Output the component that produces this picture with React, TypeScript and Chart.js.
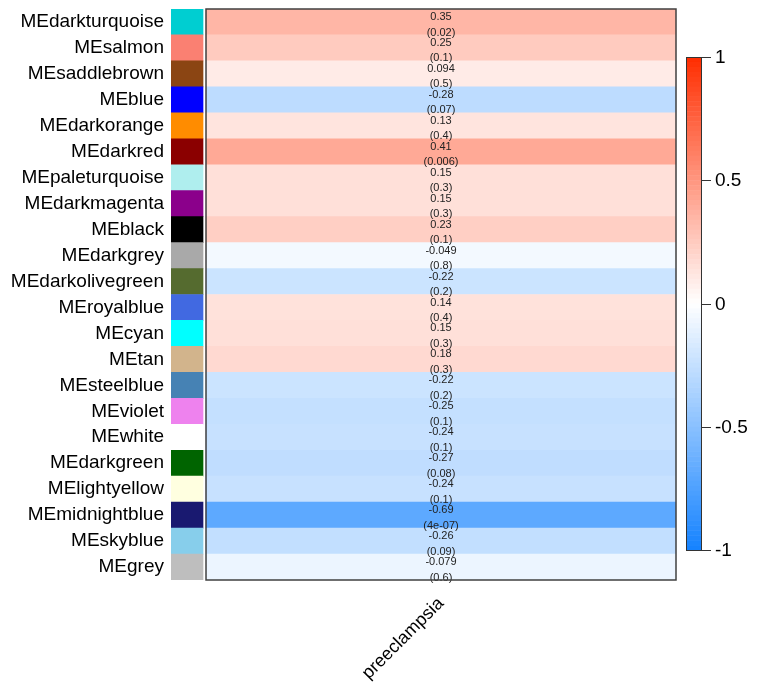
import React, { useEffect, useRef } from 'react';
import { Chart, registerables } from 'chart.js';

Chart.register(...registerables);

const modules = [
  'MEdarkturquoise', 'MEsalmon', 'MEsaddlebrown', 'MEblue', 'MEdarkorange', 'MEdarkred',
  'MEpaleturquoise', 'MEdarkmagenta', 'MEblack', 'MEdarkgrey', 'MEdarkolivegreen', 'MEroyalblue',
  'MEcyan', 'MEtan', 'MEsteelblue', 'MEviolet', 'MEwhite', 'MEdarkgreen', 'MElightyellow',
  'MEmidnightblue', 'MEskyblue', 'MEgrey',
];

const moduleColors = [
  '#00CED1', '#FA8072', '#8B4513', '#0000FF', '#FF8C00', '#8B0000',
  '#AFEEEE', '#8B008B', '#000000', '#A9A9A9', '#556B2F', '#4169E1',
  '#00FFFF', '#D2B48C', '#4682B4', '#EE82EE', '#FFFFFF', '#006400', '#FFFFE0',
  '#191970', '#87CEEB', '#BEBEBE',
];

const correlations = [
  0.35, 0.25, 0.094, -0.28, 0.13, 0.41,
  0.15, 0.15, 0.23, -0.049, -0.22, 0.14,
  0.15, 0.18, -0.22, -0.25, -0.24, -0.27, -0.24,
  -0.69, -0.26, -0.079,
];

const pValues = [
  '(0.02)', '(0.1)', '(0.5)', '(0.07)', '(0.4)', '(0.006)',
  '(0.3)', '(0.3)', '(0.1)', '(0.8)', '(0.2)', '(0.4)',
  '(0.3)', '(0.3)', '(0.2)', '(0.1)', '(0.1)', '(0.08)', '(0.1)',
  '(4e-07)', '(0.09)', '(0.6)',
];

const traitLabels = ['preeclampsia'];
const colorbarTicks = [1, 0.5, 0, -0.5, -1];

const FONT = 'Arial, "Liberation Sans", sans-serif';
const X_MIN = -0.0745;
const SWATCH_END = -0.0064;

function corrColor(v: number): string {
  const c = Math.max(-1, Math.min(1, v));
  const end = c >= 0 ? [255, 45, 0] : [20, 130, 255];
  const t = Math.abs(c);
  const r = Math.round(255 + (end[0] - 255) * t);
  const g = Math.round(255 + (end[1] - 255) * t);
  const b = Math.round(255 + (end[2] - 255) * t);
  return `rgb(${r},${g},${b})`;
}

const overlayPlugin = {
  id: 'overlay',
  afterDatasetsDraw(chart: any) {
    const { ctx, scales, chartArea } = chart;
    const x = scales.x;
    const y = scales.y;
    const left = x.getPixelForValue(0);
    const right = x.getPixelForValue(1);
    const cx = (left + right) / 2;
    ctx.save();
    // cell text
    ctx.font = `11px ${FONT}`;
    ctx.fillStyle = '#222';
    ctx.textAlign = 'center';
    ctx.textBaseline = 'middle';
    correlations.forEach((v, i) => {
      const cy = y.getPixelForValue(i);
      ctx.fillText(String(v), cx, cy - 5);
      ctx.fillText(pValues[i], cx, cy + 10.5);
    });
    // heatmap box
    ctx.strokeStyle = '#404040';
    ctx.lineWidth = 1.5;
    ctx.strokeRect(left, chartArea.top, right - left, chartArea.bottom - chartArea.top);

    // colorbar
    const bx = 686, bw = 15, bTop = 57, bBottom = 550;
    const n = 100;
    const h = (bBottom - bTop) / n;
    for (let k = 0; k < n; k++) {
      const v = 1 - (k + 0.5) * (2 / n);
      ctx.fillStyle = corrColor(v);
      ctx.fillRect(bx, bTop + k * h, bw, h + 0.5);
    }
    ctx.strokeStyle = '#333';
    ctx.lineWidth = 1;
    ctx.strokeRect(bx + 0.5, bTop + 0.5, bw, bBottom - bTop);
    ctx.font = `19px ${FONT}`;
    ctx.fillStyle = '#000';
    ctx.textAlign = 'left';
    ctx.textBaseline = 'middle';
    colorbarTicks.forEach((t) => {
      const ty = bTop + ((1 - t) / 2) * (bBottom - bTop);
      ctx.beginPath();
      ctx.moveTo(bx + bw, Math.round(ty) + 0.5);
      ctx.lineTo(bx + bw + 10, Math.round(ty) + 0.5);
      ctx.stroke();
      ctx.fillText(String(t), bx + bw + 14, ty + 1);
    });
    ctx.restore();
  },
};

export default function App() {
  const canvasRef = useRef<HTMLCanvasElement | null>(null);

  useEffect(() => {
    document.body.style.margin = '0';
    const canvas = canvasRef.current;
    if (!canvas) return;
    const chart = new Chart(canvas, {
      type: 'bar',
      data: {
        labels: modules,
        datasets: [
          {
            label: 'module',
            data: modules.map(() => [X_MIN, SWATCH_END]) as any,
            backgroundColor: moduleColors,
            borderWidth: 0,
            barPercentage: 1,
            categoryPercentage: 1,
            grouped: false,
          } as any,
          {
            label: 'correlation',
            data: correlations.map(() => [0, 1]) as any,
            backgroundColor: correlations.map(corrColor),
            borderWidth: 0,
            barPercentage: 1,
            categoryPercentage: 1,
            grouped: false,
          } as any,
        ],
      },
      options: {
        indexAxis: 'y',
        responsive: false,
        animation: false,
        layout: { padding: { top: 9, right: 86, left: 0, bottom: 0 } },
        plugins: { legend: { display: false }, tooltip: { enabled: false } },
        scales: {
          x: {
            type: 'linear',
            min: X_MIN,
            max: 1,
            grid: { display: false },
            border: { display: false },
            afterBuildTicks: (s: any) => {
              s.ticks = traitLabels.map((_, i) => ({ value: (i + 0.5) / traitLabels.length }));
            },
            ticks: {
              autoSkip: false,
              minRotation: 45,
              maxRotation: 45,
              padding: 5,
              color: '#000',
              font: { size: 18, family: FONT },
              callback: (_v: any, i: number) => traitLabels[i],
            },
            afterFit: (s: any) => {
              s.height = 114;
              s.paddingLeft = 0;
              s.paddingRight = 0;
            },
          },
          y: {
            type: 'category',
            grid: { display: false, drawTicks: false },
            border: { display: false },
            ticks: {
              autoSkip: false,
              padding: 7,
              color: '#000',
              font: { size: 19, family: FONT },
            },
            afterFit: (s: any) => {
              s.width = 171;
              s.paddingTop = 0;
              s.paddingBottom = 0;
            },
          },
        },
      } as any,
      plugins: [overlayPlugin],
    });
    return () => chart.destroy();
  }, []);

  return (
    <div style={{ width: 762, height: 694 }}>
      <canvas ref={canvasRef} width={762} height={694} style={{ display: 'block', width: 762, height: 694 }} />
    </div>
  );
}
